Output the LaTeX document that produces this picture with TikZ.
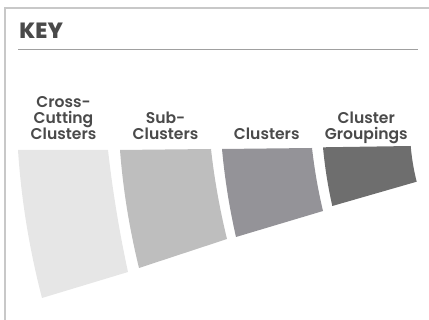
\documentclass[tikz,border=0pt]{standalone}
\usepackage{fontspec}
\setmainfont{Poppins}
\newfontfamily\labelfont{Poppins SemiBold}
\newfontfamily\keyfont{Poppins ExtraBold}

\definecolor{inkgray}{HTML}{4A4A4A}
\definecolor{framegray}{HTML}{C8C8C8}
\definecolor{rulegray}{HTML}{A0A0A0}
\definecolor{crossgray}{HTML}{E6E6E6}
\definecolor{subgray}{HTML}{BEBEBE}
\definecolor{clustgray}{HTML}{949398}
\definecolor{groupgray}{HTML}{6E6E6E}

\def\labelbase{139.6}

\begin{document}
\begin{tikzpicture}[x=1pt, y=-1pt]

                \tikzstyle{keylabel} = [inner sep=0pt, text=inkgray, font=\keyfont\fontsize{22}{24}\selectfont]
                \tikzstyle{tier}     = [inner sep=0pt, align=center, text=inkgray, font=\labelfont\fontsize{15.6}{15.9}\selectfont]
                \useasboundingbox (0,0) rectangle (429,320);

                \draw [framegray, line width=1.2pt] (5,320) -- (5,8) -- (429,8);
                \node [keylabel, anchor=base west] (key) at (19.3, 38.3) {KEY};
                \coordinate (ruleL) at (18, 49.3);
                \coordinate (ruleR) at (418, 49.3);
                \draw [rulegray, line width=0.9pt] (ruleL) -- (ruleR);

                \node [tier, anchor=base] (cross) at (63.5, \labelbase) {Cross-\\Cutting\\Clusters};
                \node [tier, anchor=base] (sub) at (165.5, \labelbase) {Sub-\\Clusters};
                \node [tier, anchor=base] (clust) at (266.7, \labelbase) {Clusters};
                \node [tier, anchor=base] (group) at (366.3, \labelbase) {Cluster\\Groupings};

                \fill [crossgray] (18,150) -- (108,150)
                        .. controls (112.6,190.7) and (119.2,231.3) .. (128,272)
                        -- (42,298)
                        .. controls (29.2,248.7) and (21.2,199.3) .. cycle;
                \fill [subgray] (120,150) -- (211,149)
                        .. controls (214.3,179) and (219.7,209) .. (227,239)
                        -- (139,268)
                        .. controls (129.4,228.7) and (123,189.3) .. cycle;
                \fill [clustgray] (222,149) -- (312,148)
                        .. controls (314.4,169) and (318,190) .. (323,211)
                        -- (236,237)
                        .. controls (229.3,207.7) and (224.7,178.3) .. cycle;
                \fill [groupgray] (323,147.3) -- (410.7,146)
                        .. controls (411.7,157.9) and (413.7,169.8) .. (416.7,181.7)
                        -- (332.3,206)
                        .. controls (327.9,186.4) and (324.8,166.9) .. cycle;
\end{tikzpicture}
\end{document}
